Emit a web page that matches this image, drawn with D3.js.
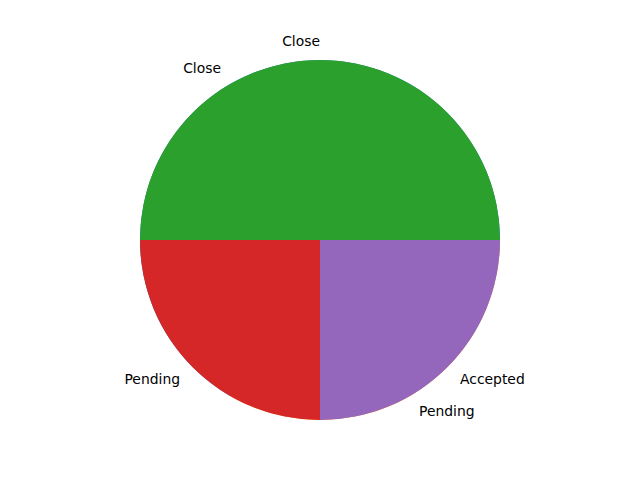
<!DOCTYPE html>
<meta charset="utf-8">
<style>
    body { margin: 0; background: #fff; }
    .label { font: 13.9px "DejaVu Sans", sans-serif; fill: #000; }
</style>
<body>
<script src="https://d3js.org/d3.v7.min.js"></script>
<script>
    // first pie (drawn first, ends up covered by the second one)
    var labels1 = ["Close", "Pending"];
    var values1 = [2, 1];
    // second pie, drawn on top
    var labels2 = ["Close", "Pending", "Accepted"];
    var values2 = [2, 1, 1];

    var width = 640,
        height = 480,
        radius = 180;

    var svg = d3.select("body").append("svg")
        .attr("width", width)
        .attr("height", height)
        .append("g")
        .attr("transform", "translate(" + width / 2 + "," + height / 2 + ")");

    // matplotlib colour cycle keeps going from one pie to the next
    var colors = ["#1f77b4", "#ff7f0e", "#2ca02c", "#d62728", "#9467bd"];

    // counterclockwise from 3 o'clock, like matplotlib
    var pie = d3.pie()
        .sort(null)
        .startAngle(Math.PI / 2)
        .endAngle(Math.PI / 2 - 2 * Math.PI);

    var arc = d3.arc().innerRadius(0).outerRadius(radius);

    var colorIndex = 0;

    function drawPie(labels, values) {
        var arcs = pie(values);
        var offset = colorIndex;
        colorIndex += values.length;

        svg.append("g")
            .selectAll("path")
            .data(arcs)
            .enter().append("path")
            .attr("d", arc)
            .attr("fill", (d, i) => colors[(offset + i) % colors.length]);

        svg.append("g")
            .selectAll("text")
            .data(arcs)
            .enter().append("text")
            .attr("class", "label")
            .attr("x", d => Math.sin((d.startAngle + d.endAngle) / 2) * radius * 1.1)
            .attr("y", d => -Math.cos((d.startAngle + d.endAngle) / 2) * radius * 1.1)
            .attr("dy", "0.32em")
            .attr("text-anchor", function (d) {
                var x = Math.sin((d.startAngle + d.endAngle) / 2);
                return x > 1e-9 ? "start" : "end";
            })
            .text((d, i) => labels[i]);
    }

    drawPie(labels1, values1);
    drawPie(labels2, values2);
</script>
</body>
